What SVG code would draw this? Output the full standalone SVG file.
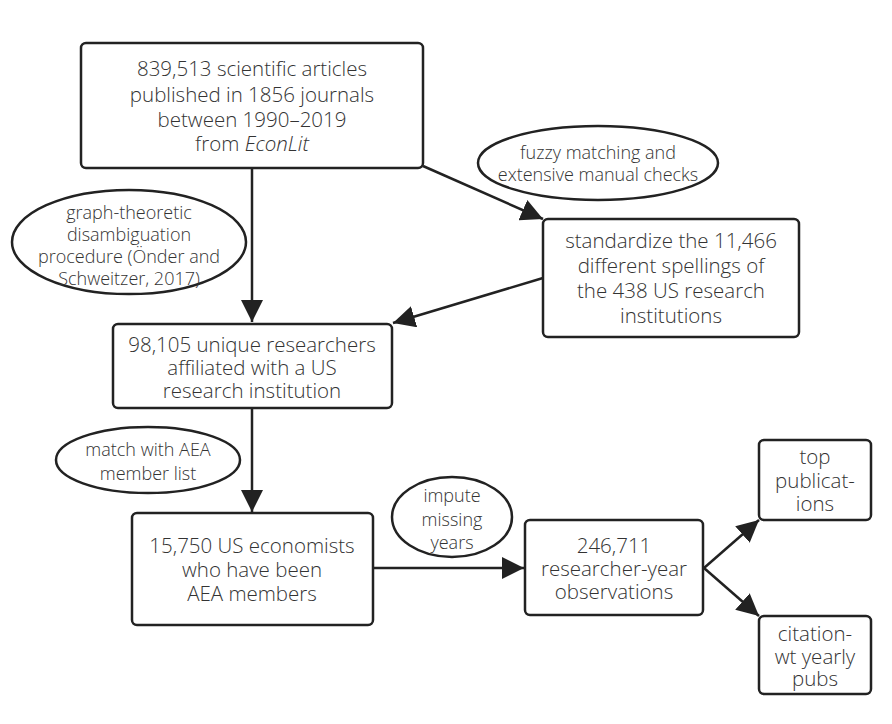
<svg xmlns="http://www.w3.org/2000/svg" width="892" height="724" viewBox="0 0 892 724">
<defs>
<marker id="am" viewBox="0 0 12 12" refX="12" refY="6" markerWidth="22" markerHeight="22" markerUnits="userSpaceOnUse" orient="auto"><path d="M0,0 L12,6 L0,12 z" fill="#222"/></marker>
<style>
.box{fill:#fff;stroke:#222;stroke-width:2.5}
.ell{fill:#fff;stroke:#222;stroke-width:2.5}
text{font-family:"Open Sans","Noto Sans","DejaVu Sans",sans-serif;font-weight:300;fill:#333;text-anchor:middle}
.t{font-size:20.5px}
.s{font-size:18px}
.c{fill:none;stroke:#222;stroke-width:2.5}
</style>
</defs>
<rect width="892" height="724" fill="#fff"/>
<g id="connectors">
<line class="c" x1="252" y1="168" x2="252" y2="322" marker-end="url(#am)"/>
<line class="c" x1="423" y1="166" x2="543" y2="219" marker-end="url(#am)"/>
<line class="c" x1="543" y1="278" x2="393" y2="323" marker-end="url(#am)"/>
<line class="c" x1="252" y1="408" x2="252" y2="512" marker-end="url(#am)"/>
<line class="c" x1="373" y1="568" x2="524" y2="568" marker-end="url(#am)"/>
<line class="c" x1="704" y1="568" x2="759" y2="520" marker-end="url(#am)"/>
<line class="c" x1="704" y1="568" x2="759" y2="616" marker-end="url(#am)"/>
</g>
<g id="n1">
<rect class="box" x="81" y="43" width="342" height="125" rx="5"/>
<text class="t" x="252" y="76">839,513 scientific articles</text>
<text class="t" x="252" y="102">published in 1856 journals</text>
<text class="t" x="252" y="127">between 1990–2019</text>
<text class="t" x="252" y="151">from <tspan font-style="italic">EconLit</tspan></text>
</g>
<g id="e1">
<ellipse class="ell" cx="598" cy="163" rx="120" ry="37"/>
<text class="s" x="598" y="159">fuzzy matching and</text>
<text class="s" x="598" y="181">extensive manual checks</text>
</g>
<g id="n2">
<rect class="box" x="543" y="219" width="256" height="118" rx="5"/>
<text class="t" x="671" y="248">standardize the 11,466</text>
<text class="t" x="671" y="273">different spellings of</text>
<text class="t" x="671" y="298">the 438 US research</text>
<text class="t" x="671" y="323">institutions</text>
</g>
<g id="e2">
<ellipse class="ell" cx="129" cy="242" rx="117" ry="52"/>
<text class="s" x="129" y="219">graph-theoretic</text>
<text class="s" x="129" y="241">disambiguation</text>
<text class="s" x="129" y="263">procedure (Önder and</text>
<text class="s" x="129" y="285">Schweitzer, 2017)</text>
</g>
<g id="n3">
<rect class="box" x="113" y="324" width="279" height="84" rx="5"/>
<text class="t" x="252" y="352">98,105 unique researchers</text>
<text class="t" x="252" y="375">affiliated with a US</text>
<text class="t" x="252" y="398">research institution</text>
</g>
<g id="e3">
<ellipse class="ell" cx="148" cy="460" rx="92" ry="33"/>
<text class="s" x="148" y="456">match with AEA</text>
<text class="s" x="148" y="480">member list</text>
</g>
<g id="n4">
<rect class="box" x="132" y="513" width="241" height="112" rx="5"/>
<text class="t" x="252" y="553">15,750 US economists</text>
<text class="t" x="252" y="577">who have been</text>
<text class="t" x="252" y="601">AEA members</text>
</g>
<g id="e4">
<ellipse class="ell" cx="452" cy="517" rx="60" ry="40"/>
<text class="s" x="452" y="502">impute</text>
<text class="s" x="452" y="526">missing</text>
<text class="s" x="452" y="549">years</text>
</g>
<g id="n5">
<rect class="box" x="525" y="520" width="178" height="95" rx="5"/>
<text class="t" x="614" y="553">246,711</text>
<text class="t" x="614" y="576">researcher-year</text>
<text class="t" x="614" y="599">observations</text>
</g>
<g id="n6">
<rect class="box" x="759" y="440" width="112" height="80" rx="5"/>
<text class="t" x="815" y="464">top</text>
<text class="t" x="815" y="488">publicat-</text>
<text class="t" x="815" y="511">ions</text>
</g>
<g id="n7">
<rect class="box" x="759" y="616" width="112" height="78" rx="5"/>
<text class="t" x="815" y="641">citation-</text>
<text class="t" x="815" y="664">wt yearly</text>
<text class="t" x="815" y="686">pubs</text>
</g>
</svg>
